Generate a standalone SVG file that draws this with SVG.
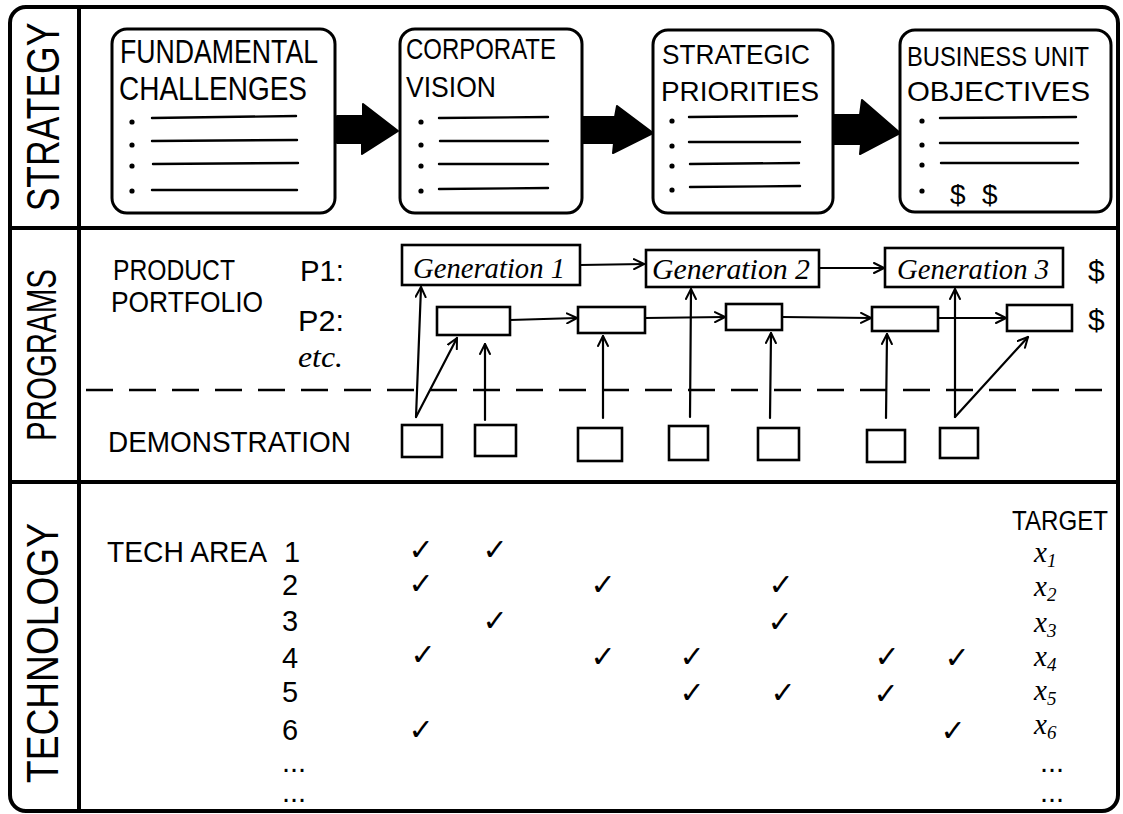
<svg xmlns="http://www.w3.org/2000/svg" width="1123" height="814" viewBox="0 0 1123 814">
<defs>
<style>
.frame{fill:none;stroke:#000;stroke-width:4;stroke-linejoin:round}
.box{fill:#fff;stroke:#000;stroke-width:3}
.sbox{fill:none;stroke:#000;stroke-width:2.6}
.ln{fill:none;stroke:#000;stroke-width:2.4;stroke-linecap:round}
.dot{fill:#000}
.cap{font-family:"Liberation Sans",Arial,sans-serif;fill:#000}
.gen{font-family:"Liberation Serif","Times New Roman",serif;font-style:italic;fill:#000;font-size:30px}
.chk{font-family:"DejaVu Sans",sans-serif;fill:#000;font-size:30px;text-anchor:middle}
.num{font-family:"Liberation Sans",Arial,sans-serif;fill:#000;font-size:29px}
.var{font-family:"Liberation Serif","Times New Roman",serif;font-style:italic;fill:#000;font-size:29px}
.conn{fill:none;stroke:#000;stroke-width:2.2;stroke-linecap:round}
.dash{fill:none;stroke:#000;stroke-width:2.4;stroke-dasharray:27 16}
.big{fill:#000;stroke:#000;stroke-width:2;stroke-linejoin:round}
</style>
<marker id="ah" viewBox="0 0 12 12" refX="11" refY="6" markerWidth="12" markerHeight="12" markerUnits="userSpaceOnUse" orient="auto">
<path d="M1,1 L11,6 L1,11" fill="none" stroke="#000" stroke-width="2" stroke-linecap="round" stroke-linejoin="round"/>
</marker>
</defs>
<rect width="1123" height="814" fill="#fff"/>

<g id="frame">
<rect class="frame" x="10" y="7" width="1108" height="804" rx="16"/>
<line class="frame" x1="79" y1="7" x2="79" y2="811"/>
<line class="frame" x1="10" y1="228" x2="1118" y2="228"/>
<line class="frame" x1="10" y1="482" x2="1118" y2="482"/>
<text class="cap" transform="translate(59,117) rotate(-90) scale(1,1.3)" font-size="35.5" text-anchor="middle">STRATEGY</text>
<text class="cap" transform="translate(56,355) rotate(-90)" font-size="42" text-anchor="middle" textLength="172" lengthAdjust="spacingAndGlyphs">PROGRAMS</text>
<text class="cap" transform="translate(58,653) rotate(-90)" font-size="44" text-anchor="middle" textLength="260" lengthAdjust="spacingAndGlyphs">TECHNOLOGY</text>
</g>

<g id="fundamental-challenges">
<rect class="box" x="112" y="29" width="223" height="184" rx="15"/>
<text class="cap" x="120" y="63" font-size="34" textLength="198" lengthAdjust="spacingAndGlyphs">FUNDAMENTAL</text>
<text class="cap" x="119" y="100" font-size="34" textLength="188" lengthAdjust="spacingAndGlyphs">CHALLENGES</text>
<circle class="dot" cx="132" cy="122" r="2.6"/><line class="ln" x1="152" y1="118" x2="296" y2="116"/>
<circle class="dot" cx="132" cy="145" r="2.6"/><line class="ln" x1="152" y1="141" x2="297" y2="140"/>
<circle class="dot" cx="132" cy="166" r="2.6"/><line class="ln" x1="153" y1="164" x2="298" y2="163"/>
<circle class="dot" cx="132" cy="191" r="2.6"/><line class="ln" x1="152" y1="190" x2="297" y2="190"/>
</g>

<g id="corporate-vision">
<rect class="box" x="400" y="29" width="182" height="184" rx="15"/>
<text class="cap" x="406" y="59" font-size="29" textLength="150" lengthAdjust="spacingAndGlyphs">CORPORATE</text>
<text class="cap" x="406" y="97" font-size="29" textLength="90" lengthAdjust="spacingAndGlyphs">VISION</text>
<circle class="dot" cx="421" cy="122" r="2.6"/><line class="ln" x1="439" y1="118" x2="548" y2="117"/>
<circle class="dot" cx="421" cy="145" r="2.6"/><line class="ln" x1="440" y1="141" x2="548" y2="141"/>
<circle class="dot" cx="421" cy="166" r="2.6"/><line class="ln" x1="439" y1="164" x2="548" y2="164"/>
<circle class="dot" cx="421" cy="191" r="2.6"/><line class="ln" x1="439" y1="189" x2="548" y2="188"/>
</g>

<g id="strategic-priorities">
<rect class="box" x="653" y="30" width="180" height="183" rx="15"/>
<text class="cap" x="662" y="64" font-size="28" textLength="148" lengthAdjust="spacingAndGlyphs">STRATEGIC</text>
<text class="cap" x="661" y="101" font-size="28" textLength="158" lengthAdjust="spacingAndGlyphs">PRIORITIES</text>
<circle class="dot" cx="672" cy="121" r="2.6"/><line class="ln" x1="689" y1="117" x2="797" y2="116"/>
<circle class="dot" cx="672" cy="146" r="2.6"/><line class="ln" x1="689" y1="142" x2="800" y2="142"/>
<circle class="dot" cx="672" cy="166" r="2.6"/><line class="ln" x1="690" y1="164" x2="799" y2="163"/>
<circle class="dot" cx="672" cy="190" r="2.6"/><line class="ln" x1="690" y1="187" x2="800" y2="186"/>
</g>

<g id="business-unit-objectives">
<rect class="box" x="900" y="30" width="211" height="182" rx="15"/>
<text class="cap" x="907" y="66" font-size="28" textLength="182" lengthAdjust="spacingAndGlyphs">BUSINESS UNIT</text>
<text class="cap" x="907" y="101" font-size="28" textLength="183" lengthAdjust="spacingAndGlyphs">OBJECTIVES</text>
<circle class="dot" cx="922" cy="121" r="2.6"/><line class="ln" x1="940" y1="118" x2="1076" y2="117"/>
<circle class="dot" cx="922" cy="145" r="2.6"/><line class="ln" x1="940" y1="143" x2="1078" y2="143"/>
<circle class="dot" cx="922" cy="165" r="2.6"/><line class="ln" x1="941" y1="163" x2="1078" y2="163"/>
<circle class="dot" cx="922" cy="191" r="2.6"/>
<text class="cap" x="950" y="204" font-size="28">$</text>
<text class="cap" x="982" y="204" font-size="28">$</text>
</g>

<g id="program-labels">
<text class="cap" x="113" y="280" font-size="30" textLength="122" lengthAdjust="spacingAndGlyphs">PRODUCT</text>
<text class="cap" x="111" y="312" font-size="30" textLength="152" lengthAdjust="spacingAndGlyphs">PORTFOLIO</text>
<text class="cap" x="300" y="281" font-size="30" textLength="44" lengthAdjust="spacingAndGlyphs">P1:</text>
<text class="cap" x="298" y="331" font-size="30" textLength="46" lengthAdjust="spacingAndGlyphs">P2:</text>
<text class="gen" x="298" y="367" textLength="45" lengthAdjust="spacingAndGlyphs">etc.</text>
<text class="cap" x="108" y="452" font-size="30" textLength="243" lengthAdjust="spacingAndGlyphs">DEMONSTRATION</text>
<text class="cap" x="1088" y="281" font-size="30">$</text>
<text class="cap" x="1088" y="330" font-size="30">$</text>
</g>

<g id="generation-1">
<rect class="sbox" x="402" y="245" width="178" height="40"/>
<text class="gen" x="413" y="278" textLength="152" lengthAdjust="spacingAndGlyphs">Generation 1</text>
</g>
<g id="generation-2">
<rect class="sbox" x="646" y="250" width="173" height="37"/>
<text class="gen" x="652" y="279" textLength="158" lengthAdjust="spacingAndGlyphs">Generation 2</text>
</g>
<g id="generation-3">
<rect class="sbox" x="885" y="248" width="178" height="39"/>
<text class="gen" x="897" y="279" textLength="152" lengthAdjust="spacingAndGlyphs">Generation 3</text>
</g>

<g id="p2-projects">
<rect class="sbox" x="437" y="307" width="73" height="28"/>
<rect class="sbox" x="578" y="307" width="67" height="26"/>
<rect class="sbox" x="726" y="304" width="56" height="26"/>
<rect class="sbox" x="872" y="307" width="66" height="24"/>
<rect class="sbox" x="1007" y="305" width="65" height="26"/>
</g>

<g id="demonstrations">
<rect class="sbox" x="402" y="425" width="40" height="32"/>
<rect class="sbox" x="475" y="425" width="41" height="31"/>
<rect class="sbox" x="578" y="428" width="44" height="33"/>
<rect class="sbox" x="669" y="426" width="39" height="34"/>
<rect class="sbox" x="758" y="428" width="41" height="32"/>
<rect class="sbox" x="867" y="430" width="38" height="32"/>
<rect class="sbox" x="940" y="428" width="38" height="30"/>
</g>

<g id="connectors">
<path class="big" d="M337,116 L363,116 L363,104 L398,131 L362,154 L362,143 L337,143 Z"/>
<path class="big" d="M582,117 L615,117 L617,106 L653,133 L613,153 L614,143 L582,143 Z"/>
<path class="big" d="M833,115 L860,115 L862,100 L900,133 L860,154 L861,144 L833,144 Z"/>
<line class="dash" x1="86" y1="390" x2="1118" y2="390"/>
<line class="conn" x1="580" y1="265" x2="644" y2="264" marker-end="url(#ah)"/>
<line class="conn" x1="819" y1="268" x2="884" y2="268" marker-end="url(#ah)"/>
<line class="conn" x1="510" y1="320" x2="577" y2="318" marker-end="url(#ah)"/>
<line class="conn" x1="645" y1="318" x2="725" y2="317" marker-end="url(#ah)"/>
<line class="conn" x1="782" y1="317" x2="871" y2="318" marker-end="url(#ah)"/>
<line class="conn" x1="938" y1="318" x2="1006" y2="318" marker-end="url(#ah)"/>
<line class="conn" x1="416" y1="417" x2="421" y2="287" marker-end="url(#ah)"/>
<line class="conn" x1="416" y1="417" x2="457" y2="338" marker-end="url(#ah)"/>
<line class="conn" x1="485" y1="420" x2="485" y2="344" marker-end="url(#ah)"/>
<line class="conn" x1="603" y1="418" x2="603" y2="336" marker-end="url(#ah)"/>
<line class="conn" x1="690" y1="417" x2="691" y2="289" marker-end="url(#ah)"/>
<line class="conn" x1="770" y1="418" x2="771" y2="333" marker-end="url(#ah)"/>
<line class="conn" x1="886" y1="418" x2="887" y2="334" marker-end="url(#ah)"/>
<line class="conn" x1="955" y1="417" x2="955" y2="289" marker-end="url(#ah)"/>
<line class="conn" x1="955" y1="417" x2="1028" y2="337" marker-end="url(#ah)"/>
</g>

<g id="technology">
<text class="cap" x="107" y="562" font-size="30" textLength="160" lengthAdjust="spacingAndGlyphs">TECH AREA</text>
<text class="num" x="284" y="562">1</text>
<text class="num" x="282" y="595">2</text>
<text class="num" x="282" y="631">3</text>
<text class="num" x="282" y="668">4</text>
<text class="num" x="282" y="702">5</text>
<text class="num" x="282" y="740">6</text>
<text class="num" x="282" y="772" font-size="20">...</text>
<text class="num" x="282" y="802" font-size="20">...</text>
<text class="cap" x="1012" y="530" font-size="27" textLength="96" lengthAdjust="spacingAndGlyphs">TARGET</text>
<text class="var" x="1034" y="562">x<tspan font-size="19" dy="5">1</tspan></text>
<text class="var" x="1034" y="596">x<tspan font-size="19" dy="5">2</tspan></text>
<text class="var" x="1034" y="632">x<tspan font-size="19" dy="5">3</tspan></text>
<text class="var" x="1034" y="666">x<tspan font-size="19" dy="5">4</tspan></text>
<text class="var" x="1034" y="700">x<tspan font-size="19" dy="5">5</tspan></text>
<text class="var" x="1034" y="734">x<tspan font-size="19" dy="5">6</tspan></text>
<text class="num" x="1040" y="772" font-size="20">...</text>
<text class="num" x="1040" y="802" font-size="20">...</text>
</g>

<g id="checks">
<text class="chk" x="421" y="560">✓</text>
<text class="chk" x="495" y="560">✓</text>
<text class="chk" x="421" y="594">✓</text>
<text class="chk" x="603" y="595">✓</text>
<text class="chk" x="781" y="595">✓</text>
<text class="chk" x="495" y="631">✓</text>
<text class="chk" x="780" y="632">✓</text>
<text class="chk" x="423" y="665">✓</text>
<text class="chk" x="603" y="667">✓</text>
<text class="chk" x="692" y="667">✓</text>
<text class="chk" x="887" y="667">✓</text>
<text class="chk" x="957" y="668">✓</text>
<text class="chk" x="692" y="703">✓</text>
<text class="chk" x="783" y="703">✓</text>
<text class="chk" x="886" y="704">✓</text>
<text class="chk" x="421" y="740">✓</text>
<text class="chk" x="953" y="741">✓</text>
</g>
</svg>
